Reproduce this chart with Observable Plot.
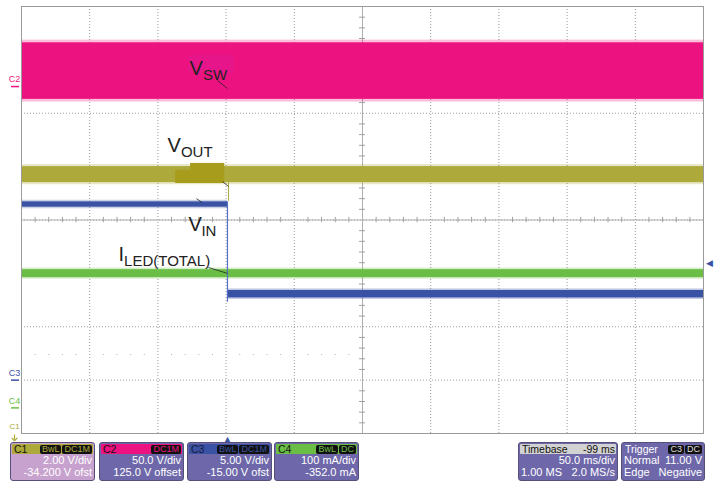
<!DOCTYPE html>
<html><head><meta charset="utf-8">
<script src="https://cdn.jsdelivr.net/npm/d3@7"></script>
<script src="https://cdn.jsdelivr.net/npm/@observablehq/plot@0.6"></script>
<style>
html,body{margin:0;padding:0;background:#fff;}
#wrap{position:relative;width:714px;height:483px;overflow:hidden;font-family:"Liberation Sans",Arial,sans-serif;}
#chart svg{display:block}
.box{position:absolute;top:442px;height:39px;border:1px solid #55507a;border-radius:3px;background:#6E68AA;color:#fff;font-size:11px;box-sizing:border-box;overflow:hidden}
.hdr{height:10px;line-height:10px;margin:1px 1px 0 1px;display:flex;justify-content:space-between;align-items:center;color:#111;padding:0 1px 0 2px;font-size:10.5px;border-radius:1px}
.badge{background:#111;border-radius:2px;padding:0 2px;margin-left:1px;font-size:9px;line-height:9px;height:9px}
.row{display:flex;justify-content:space-between;padding:0 2px;height:13px;line-height:13px}
</style>
</head><body>
<div id="wrap"><div id="chart"></div></div>
<script>
// ---------- data ----------
const channels = ["C1", "C2", "C3", "C4"];
const traceNames = ["VOUT", "VSW", "VIN", "ILED(TOTAL)"];
const perDiv = [2, 50, 5, 100];              // units per division
const offsets = [-34.2, 125, -15, -352];     // displayed offset (centre value = -offset)
const unitNames = ["V", "V", "V", "mA"];
const couplings = [["BwL", "DC1M"], ["DC1M"], ["BwL", "DC1M"], ["BwL", "DC"]];
const perDivLabels = ["2.00 V/div", "50.0 V/div", "5.00 V/div", "100 mA/div"];
const offsetLabels = ["-34.200 V ofst", "125.0 V offset", "-15.00 V ofst", "-352.0 mA"];

const timePerDiv = 50;       // ms/div
const timebaseDelay = -99;   // ms
const triggerLevel = 11;     // V on C3
const timebaseLabels = ["Timebase", "-99 ms", "50.0 ms/div", "1.00 MS", "2.0 MS/s"];
const triggerLabels = ["Trigger", "C3", "DC", "Normal", "11.00 V", "Edge", "Negative"];

// trace envelopes: [start ms, end ms, min, max] in channel units
const voutEnvelope = [[-151, 0, 35.6, 36.2], [0, 349, 35.6, 36.2]];
const vswEnvelope = [[-151, 349, -12, 41]];
const vinEnvelope = [[-151, 0, 16.2, 16.7], [0, 349, 7.7, 8.4]];
const iledEnvelope = [[-151, 349, 244, 259]];
const noisePeak = [0.08, 2.5, 0.15, 3];      // extra spikes beyond envelope
const vinStep = [0, 16.7, 7.3];              // time, from, to (V)
const voutGlitch = [0.8, 35.6, 34.9];        // time, from, to (V)

// ---------- helpers ----------
const centre = offsets.map(o => -o);
const toDiv = (ch, v) => (v - centre[ch]) / perDiv[ch];
const tCentre = -timebaseDelay;
const xDomain = [tCentre - 5 * timePerDiv, tCentre + 5 * timePerDiv];
const msPerPx = timePerDiv / 68.2;
const divPerPx = 1 / 53.375;
const colors = ["#ADA93A", "#EC1380", "#3A52A4", "#6BBE45"];

const xGrid = d3.range(0, 11).map(k => xDomain[0] + k * timePerDiv);
const yGrid = d3.range(-4, 5);
const xMinor = d3.range(0, 51).map(k => xDomain[0] + k * timePerDiv / 5).filter((d, i) => i % 5);
const yMinor = d3.range(-20, 21).map(k => k / 5).filter((d, i) => i % 5);
const dotRow = d3.range(1, 25).filter(i => i % 5).map(i => xDomain[0] + i * timePerDiv / 5);

function envelope(data, ch) {
  const n = noisePeak[ch];
  return [
    Plot.rect(data, {x1: d => d[0], x2: d => d[1], y1: d => toDiv(ch, d[2] - n), y2: d => toDiv(ch, d[3] + n), fill: colors[ch], fillOpacity: 0.28}),
    Plot.rect(data, {x1: d => d[0], x2: d => d[1], y1: d => toDiv(ch, d[2]), y2: d => toDiv(ch, d[3]), fill: colors[ch]})
  ];
}

// ground markers on the left edge
const markers = channels.map((c, i) => {
  const g = toDiv(i, 0);
  return {c, i, g: Math.max(-4, Math.min(4, g)), off: g < -4 || g > 4};
});
const onScreen = markers.filter(d => !d.off);
const offScreen = markers.filter(d => d.off);

const labelFont = "Liberation Sans, Arial, sans-serif";
const labels = [
  {main: "V", sub: "SW", t: -27.8, v: 2.71, w: 13.5},
  {main: "V", sub: "OUT", t: -44, v: 1.265, w: 13.5},
  {main: "V", sub: "IN", t: -28.6, v: -0.197, w: 13},
  {main: "I", sub: "LED(TOTAL)", t: -79.9, v: -0.76, w: 5.6}
];
const leaders = [
  {x1: -7.3, y1: 2.613, x2: 0, y2: 2.463},
  {x1: -3.6, y1: 0.72, x2: 0.7, y2: 0.63},
  {x1: -22.7, y1: 0.40, x2: -18.8, y2: 0.33},
  {x1: -13.9, y1: -0.89, x2: 0, y2: -1.0}
];

const plot = Plot.plot({
  width: 714, height: 441,
  marginLeft: 21, marginRight: 11, marginTop: 6, marginBottom: 8,
  x: {domain: xDomain, axis: null},
  y: {domain: [-4, 4], axis: null},
  style: {background: "#fff", fontFamily: labelFont, overflow: "visible"},
  marks: [
    Plot.ruleX(xGrid.slice(1, -1), {stroke: "#9a9a9a", strokeDasharray: "1,2", strokeWidth: 1}),
    Plot.ruleY(yGrid.slice(1, -1), {stroke: "#9a9a9a", strokeDasharray: "1,2", strokeWidth: 1}),
    Plot.ruleX([tCentre], {stroke: "#b0b0b0"}),
    Plot.ruleY([0], {stroke: "#b0b0b0"}),
    Plot.ruleX(xMinor, {y1: -0.05, y2: 0.05, stroke: "#a0a0a0"}),
    Plot.ruleY(yMinor, {x1: tCentre - 3 * msPerPx, x2: tCentre + 3 * msPerPx, stroke: "#a0a0a0"}),
    Plot.dot(dotRow, {x: d => d, y: -2.52, r: 0.6, fill: "#aaa", stroke: null}),
    ...envelope(vswEnvelope, 1),
    Plot.rect([0], {x1: -28.6, x2: 5.2, y1: 2.74, y2: 3.08, fill: "#E6168A"}),
    ...envelope(voutEnvelope, 0),
    Plot.rect([[-38, -2, 0.684, 0.93], [-27, -2, 0.93, 1.06]], {x1: d => d[0], x2: d => d[1], y1: d => d[2], y2: d => d[3], fill: "#A89C1C"}),
    Plot.ruleX([voutGlitch], {x: d => d[0], y1: d => toDiv(0, d[1]), y2: d => toDiv(0, d[2]), stroke: colors[0], strokeWidth: 1}),
    ...envelope(iledEnvelope, 3),
    ...envelope(vinEnvelope, 2),
    Plot.ruleX([vinStep], {x: d => d[0], y1: d => toDiv(2, d[1]), y2: d => toDiv(2, d[2]), stroke: "#5470c8", strokeWidth: 1.2}),
    // annotations
    Plot.link(leaders, {x1: "x1", y1: "y1", x2: "x2", y2: "y2", stroke: "#222", strokeWidth: 0.8}),
    Plot.text(labels, {x: "t", y: "v", text: "main", fontSize: 20, textAnchor: "start", lineAnchor: "bottom", fill: "#222"}),
    Plot.text(labels, {x: "t", y: "v", text: "sub", fontSize: 15, textAnchor: "start", lineAnchor: "bottom", fill: "#222",
      dy: 5, render: (index, scales, values, dims, ctx, next) => {
        const g = next(index, scales, values, dims, ctx);
        d3.select(g).selectAll("text").each(function(_, j) {
          d3.select(this).attr("dx", labels[index[j]].w);
        });
        return g;
      }}),
    Plot.frame({stroke: "#9a9a9a"}),
    // left ground markers
    Plot.text(onScreen, {x: xDomain[0], y: "g", text: "c", fill: d => colors[d.i], fontSize: 9, dx: -7, dy: -7}),
    Plot.ruleY(onScreen, {y: "g", x1: xDomain[0] - 10 * msPerPx, x2: xDomain[0] - 2 * msPerPx, stroke: d => colors[d.i], strokeWidth: 1.5}),
    Plot.text(offScreen, {x: xDomain[0], y: "g", text: "c", fill: d => colors[d.i], fontSize: 8, dx: -7, dy: -7}),
    Plot.link(offScreen, {x1: xDomain[0] - 7 * msPerPx, x2: xDomain[0] - 7 * msPerPx, y1: d => d.g - 1 * divPerPx, y2: d => d.g - 6 * divPerPx,
      stroke: d => colors[d.i], strokeWidth: 1.2, markerEnd: "arrow"}),
    // trigger markers
    Plot.text([0], {x: 0, y: -4, text: () => "▲", fill: colors[2], fontSize: 9, dy: 6}),
    Plot.text([triggerLevel], {x: xDomain[1], y: d => toDiv(2, d), text: () => "◀", fill: colors[2], fontSize: 9, dx: 6})
  ]
});
document.getElementById("chart").appendChild(plot);

// ---------- info boxes ----------
const wrap = document.getElementById("wrap");
const boxLefts = [10, 99, 187, 274];
channels.forEach((c, i) => {
  const b = document.createElement("div");
  b.className = "box";
  b.style.left = boxLefts[i] + "px";
  b.style.width = "85px";
  if (i === 0) b.style.background = "#C7A2CE";
  const badges = couplings[i].map(t => `<span class="badge" style="color:${colors[i]}">${t}</span>`).join("");
  b.innerHTML = `<div class="hdr" style="background:${colors[i]};color:${i === 2 ? "#1a1a3a" : "#111"}"><span>${c}</span><span style="display:flex">${badges}</span></div>
    <div class="row"><span></span><span>${perDivLabels[i]}</span></div>
    <div class="row" style="margin-top:-1px"><span></span><span>${offsetLabels[i]}</span></div>`;
  wrap.appendChild(b);
});
const tb = document.createElement("div");
tb.className = "box"; tb.style.left = "518px"; tb.style.width = "100px";
tb.innerHTML = `<div class="hdr" style="background:#D2D2D2;color:#111"><span>${timebaseLabels[0]}</span><span>${timebaseLabels[1]}</span></div>
  <div class="row"><span></span><span>${timebaseLabels[2]}</span></div>
  <div class="row" style="margin-top:-1px"><span>${timebaseLabels[3]}</span><span>${timebaseLabels[4]}</span></div>`;
wrap.appendChild(tb);
const tr = document.createElement("div");
tr.className = "box"; tr.style.left = "621px"; tr.style.width = "84px";
tr.innerHTML = `<div class="hdr" style="color:#fff"><span>${triggerLabels[0]}</span><span style="display:flex"><span class="badge" style="color:#ddd">${triggerLabels[1]}</span><span class="badge" style="color:#ddd">${triggerLabels[2]}</span></span></div>
  <div class="row"><span>${triggerLabels[3]}</span><span>${triggerLabels[4]}</span></div>
  <div class="row" style="margin-top:-1px"><span>${triggerLabels[5]}</span><span>${triggerLabels[6]}</span></div>`;
wrap.appendChild(tr);
</script>
</body></html>
